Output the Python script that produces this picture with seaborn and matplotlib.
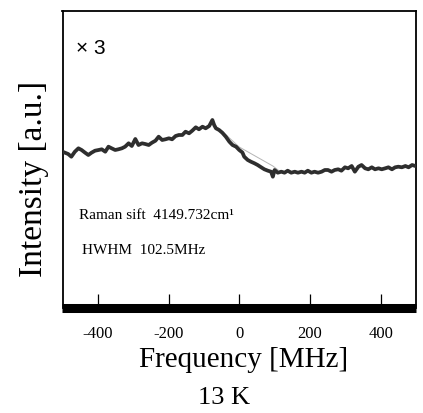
import numpy as np
import pandas as pd
import seaborn as sns
import matplotlib
matplotlib.use("Agg")
import matplotlib.pyplot as plt

# ---- data ----
freq_mhz = [-500, -493, -484, -475, -465, -455, -446, -436, -427, -418,
            -408, -398, -389, -379, -370, -361, -351, -342, -332, -323,
            -313, -304, -294, -285, -275, -266, -256, -247, -237, -228,
            -218, -209, -199, -190, -180, -171, -161, -152, -142, -133,
            -123, -114, -104, -95, -85, -76, -71, -66, -57, -48,
            -38, -28, -19, -9, 0, 9, 14, 24, 33, 43,
            52, 62, 71, 81, 90, 95, 100, 109, 119, 128,
            137, 147, 157, 166, 176, 185, 194, 204, 213, 223,
            233, 242, 251, 261, 270, 280, 289, 299, 308, 318,
            327, 337, 346, 356, 365, 375, 384, 394, 403, 413,
            422, 432, 441, 450, 460, 470, 479, 489, 498]
intensity = [159.3, 158.3, 157.0, 154.3, 159.3, 162.7, 161.0, 158.3, 156.0, 158.3,
             160.3, 161.0, 161.7, 159.3, 164.3, 162.7, 161.0, 161.7, 162.7, 164.3,
             167.7, 165.0, 172.0, 166.0, 167.7, 167.0, 166.0, 168.3, 170.3, 174.3,
             171.0, 171.7, 172.7, 171.7, 175.0, 176.0, 176.0, 179.3, 177.7, 180.3,
             183.7, 181.7, 184.3, 182.7, 185.0, 191.0, 186.0, 182.7, 181.0, 178.3,
             174.3, 169.3, 166.0, 164.3, 161.0, 158.5, 154.3, 151.0, 149.3, 147.7,
             146.0, 143.7, 141.7, 140.3, 139.3, 134.3, 141.0, 138.3, 139.3, 138.3,
             140.3, 138.3, 139.3, 138.3, 139.3, 138.3, 140.3, 138.3, 139.3, 138.3,
             139.3, 141.0, 141.0, 139.3, 141.0, 141.7, 140.3, 143.7, 142.7, 145.0,
             139.3, 144.3, 146.0, 142.7, 141.7, 143.7, 141.7, 142.7, 141.7, 142.7,
             143.7, 141.7, 143.7, 144.3, 143.7, 145.0, 143.7, 146.0, 145.0]

# faint fit curve visible where it departs from the data
fit_freq = [-60, -37, 0, 50, 95, 110]
fit_int = [183, 176, 164, 154, 145, 141]

xticks = [-400, -200, 0, 200, 400]
xtick_labels = ["-400", "-200", "0", "200", "400"]

df = pd.DataFrame({"freq": freq_mhz, "intensity": intensity})
fit_df = pd.DataFrame({"freq": fit_freq, "intensity": fit_int})

sns.set_style("white")
plt.rcParams["font.family"] = ["Liberation Serif", "DejaVu Serif"]
plt.rcParams["text.color"] = "black"
plt.rcParams["xtick.color"] = "black"

fig = plt.figure(figsize=(4.23, 4.13), dpi=100)
W, H = 423, 413
ax = fig.add_axes([62.5 / W, 1 - 307.5 / H, (416 - 62.5) / W, (307.5 - 11) / H])

sns.lineplot(data=fit_df, x="freq", y="intensity", ax=ax, color="#b5b5b5",
             linewidth=0.7, zorder=2)
sns.lineplot(data=df, x="freq", y="intensity", ax=ax, color="#2e2e2e",
             linewidth=2.7, zorder=3)

ax.set_xlim(-500, 500)
ax.set_ylim(3.5, 300)
ax.set_xlabel("")
ax.set_ylabel("")
ax.set_yticks([])
ax.set_xticks(xticks)
ax.set_xticklabels(xtick_labels, fontsize=12, family=["Liberation Serif"])
ax.tick_params(axis="x", direction="in", length=10, width=0.9, pad=13,
               colors="black", bottom=True)

for side in ["left", "top", "right"]:
    ax.spines[side].set_color("black")
    ax.spines[side].set_linewidth(1.3)
ax.spines["bottom"].set_color("black")
ax.spines["bottom"].set_linewidth(6.5)
ax.spines["bottom"].set_capstyle("butt")

ax.text(0.038, 0.874, "\u00d7 3", transform=ax.transAxes, ha="left", va="center",
        fontsize=15, color="black", family=["Liberation Sans", "DejaVu Sans"])
ax.text(0.047, 0.309, "Raman sift  4149.732cm\u00b9", transform=ax.transAxes,
        ha="left", va="center", fontsize=11, color="black")
ax.text(0.055, 0.191, "HWHM  102.5MHz", transform=ax.transAxes,
        ha="left", va="center", fontsize=11, color="black")

fig.text(34 / W, 1 - 178.5 / H, "Intensity [a.u.]", rotation=90,
         ha="center", va="center", fontsize=24, color="black")
fig.text(244 / W, 1 - 360 / H, "Frequency [MHz]", ha="center", va="center",
         fontsize=21, color="black")
fig.text(224 / W, 1 - 398 / H, "13 K", ha="center", va="center", fontsize=19,
         color="black")

fig.savefig("out.png", dpi=100)
